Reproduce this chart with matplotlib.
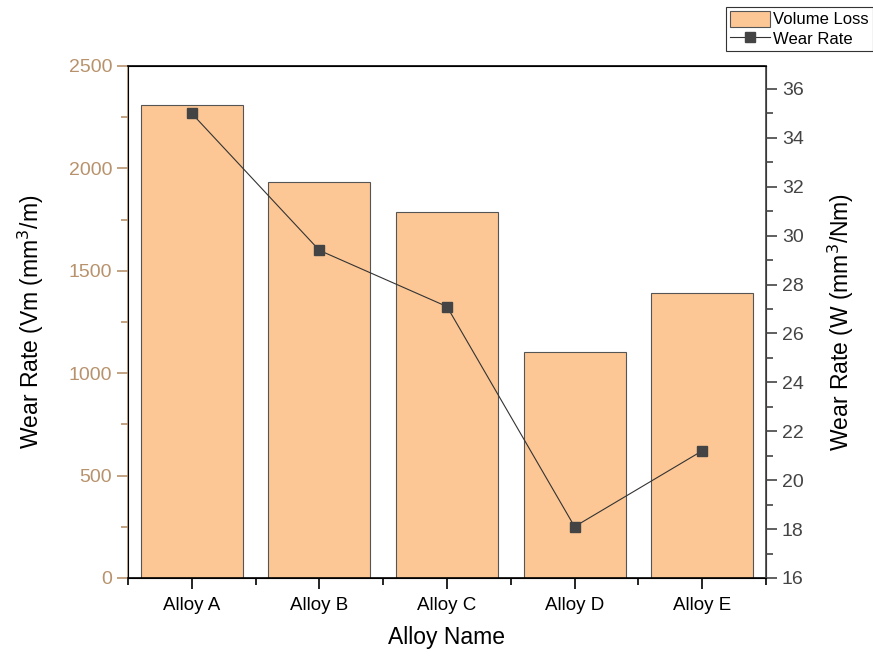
import numpy as np
import matplotlib
matplotlib.use("Agg")
import matplotlib.pyplot as plt
from matplotlib.ticker import MultipleLocator, FixedLocator

plt.rcParams['font.family'] = ['Liberation Sans', 'DejaVu Sans']

alloys = ['Alloy A', 'Alloy B', 'Alloy C', 'Alloy D', 'Alloy E']
volume_loss = [2310, 1935, 1787, 1103, 1393]
wear_rate = [35.0, 29.4, 27.1, 18.1, 21.2]

tan = '#b8926c'
bar_face = '#fcc795'

fig = plt.figure(figsize=(8.73, 6.58), dpi=100)
ax = fig.add_axes([0.1466, 0.1216, 0.7308, 0.7781])
x = np.arange(len(alloys))

bars = ax.bar(x, volume_loss, width=0.8, color=bar_face, edgecolor='#555555',
              linewidth=0.8, label='Volume Loss', zorder=2)
ax.set_xlim(-0.5, len(alloys) - 0.5)
ax.set_ylim(0, 2500)
ax.yaxis.set_major_locator(MultipleLocator(500))
ax.yaxis.set_minor_locator(MultipleLocator(250))
ax.set_xticks(x)
ax.set_xticklabels(alloys)
ax.xaxis.set_minor_locator(FixedLocator(np.arange(-0.5, len(alloys), 1.0)))
ax.tick_params(axis='x', which='major', direction='out', length=8, width=1.2,
               labelsize=13.5, pad=6, color='black')
ax.tick_params(axis='x', which='minor', direction='out', length=5, width=1.2, color='black')
ax.tick_params(axis='y', which='major', direction='out', length=8, width=1.2,
               labelsize=14, colors=tan)
ax.tick_params(axis='y', which='minor', direction='out', length=5, width=1.2, colors=tan)
ax.spines['left'].set_color(tan)
ax.spines['left'].set_linewidth(1.2)
ax.spines['bottom'].set_linewidth(1.2)
ax.spines['top'].set_linewidth(1.2)
ax.set_xlabel('Alloy Name', fontsize=16.5, labelpad=8)
ax.set_ylabel('Wear Rate (Vm (mm$^3$/m)', fontsize=16.5, labelpad=16)

ax2 = ax.twinx()
line, = ax2.plot(x, wear_rate, color='#333333', linewidth=0.8, marker='s',
                 markersize=7, markerfacecolor='#444444', markeredgecolor='#444444',
                 label='Wear Rate')
ax2.set_ylim(16, 36.94)
ax2.yaxis.set_major_locator(MultipleLocator(2))
ax2.yaxis.set_minor_locator(MultipleLocator(1))
ax2.tick_params(axis='y', which='major', direction='out', length=8, width=1.2,
                labelsize=14, colors='#444444')
ax2.tick_params(axis='y', which='minor', direction='out', length=5, width=1.2, colors='#444444')
ax2.spines['right'].set_color('#444444')
ax2.spines['right'].set_linewidth(1.2)
ax2.set_ylabel('Wear Rate (W (mm$^3$/Nm)', fontsize=16.5, labelpad=16)

leg = fig.legend([bars, line], ['Volume Loss', 'Wear Rate'], loc='upper right',
                 bbox_to_anchor=(1.0, 0.99), fontsize=12, frameon=True, fancybox=False,
                 edgecolor='#333333', framealpha=1, borderpad=0.25, handlelength=2.4,
                 handleheight=1.1, handletextpad=0.2, labelspacing=0.15, borderaxespad=0.0)
leg.get_frame().set_linewidth(0.8)

fig.savefig('out.png', dpi=100)
